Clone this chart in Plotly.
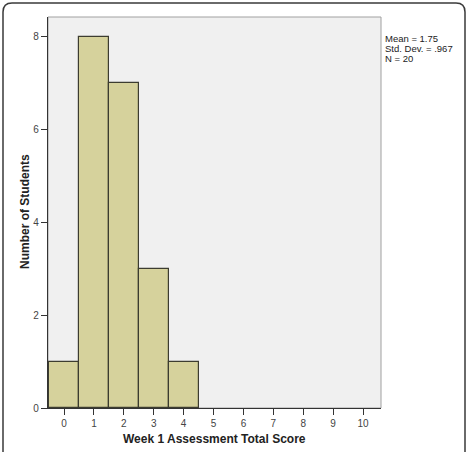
import plotly.graph_objects as go

# Data
scores = [0, 1, 2, 3, 4]
counts = [1, 8, 7, 3, 1]
x_ticks = [0, 1, 2, 3, 4, 5, 6, 7, 8, 9, 10]
y_ticks = [0, 2, 4, 6, 8]
stats_lines = ["Mean = 1.75", "Std. Dev. = .967", "N = 20"]

W, H = 469, 452
L, R, T, B = 48, 88, 17, 44
PW, PH = W - L - R, H - T - B

def px(x):
    return (x - L) / PW

def py(y):
    return (H - B - y) / PH

fig = go.Figure()
fig.add_trace(go.Bar(
    x=scores, y=counts, width=1,
    marker=dict(color="#d6d29c", line=dict(color="#3c3c30", width=1.2)),
    hoverinfo="x+y",
))

# outer rounded frame
x0, y0, x1, y1, r = px(3), py(3), px(465), py(470), 9
def fx(d):
    return d / PW
def fy(d):
    return d / PH
path = (f"M {x0+fx(r)},{y0} L {x1-fx(r)},{y0} Q {x1},{y0} {x1},{y0-fy(r)} "
        f"L {x1},{y1} L {x0},{y1} L {x0},{y0-fy(r)} Q {x0},{y0} {x0+fx(r)},{y0} Z")
shapes = [
    dict(type="path", path=path, xref="paper", yref="paper",
         line=dict(color="#3a3a3a", width=1.5), fillcolor="rgba(0,0,0,0)", layer="below"),
    dict(type="rect", xref="paper", yref="paper", x0=0, y0=0, x1=1, y1=1,
         line=dict(color="#a0a0a0", width=1), fillcolor="rgba(0,0,0,0)", layer="below"),
]

annotations = []
for i, t in enumerate(stats_lines):
    annotations.append(dict(
        x=px(383), y=py(39 + 9.5 * i), xref="paper", yref="paper",
        text=t, showarrow=False, xanchor="left", yanchor="middle",
        font=dict(family="Arial, Liberation Sans", size=9.5, color="#222")))
annotations.append(dict(
    x=px(214), y=py(439), xref="paper", yref="paper",
    text="<b>Week 1 Assessment Total Score</b>", showarrow=False,
    xanchor="center", yanchor="middle",
    font=dict(family="Arial, Liberation Sans", size=12, color="#222")))
annotations.append(dict(
    x=px(25), y=py(212), xref="paper", yref="paper",
    text="<b>Number of Students</b>", showarrow=False, textangle=-90,
    xanchor="center", yanchor="middle",
    font=dict(family="Arial, Liberation Sans", size=12, color="#222")))

fig.update_layout(
    width=W, height=H,
    margin=dict(l=L, r=R, t=T, b=B, pad=0),
    paper_bgcolor="white",
    plot_bgcolor="#f0f0f0",
    showlegend=False,
    bargap=0,
    shapes=shapes,
    annotations=annotations,
    font=dict(family="Arial, Liberation Sans", size=10, color="#444"),
    xaxis=dict(
        range=[-0.535, 10.6], tickvals=x_ticks, ticktext=[str(v) for v in x_ticks],
        ticks="outside", ticklen=6, tickcolor="#333", tickwidth=1,
        showgrid=False, zeroline=False, showline=True, linecolor="#333", linewidth=1.2,
        tickfont=dict(size=10, color="#444"),
    ),
    yaxis=dict(
        range=[0, 8.43], tickvals=y_ticks, ticktext=[str(v) for v in y_ticks],
        ticks="outside", ticklen=6, tickcolor="#333", tickwidth=1,
        showgrid=False, zeroline=False, showline=True, linecolor="#333", linewidth=1.2,
        tickfont=dict(size=10, color="#444"),
    ),
)

fig.write_html("out.html")
